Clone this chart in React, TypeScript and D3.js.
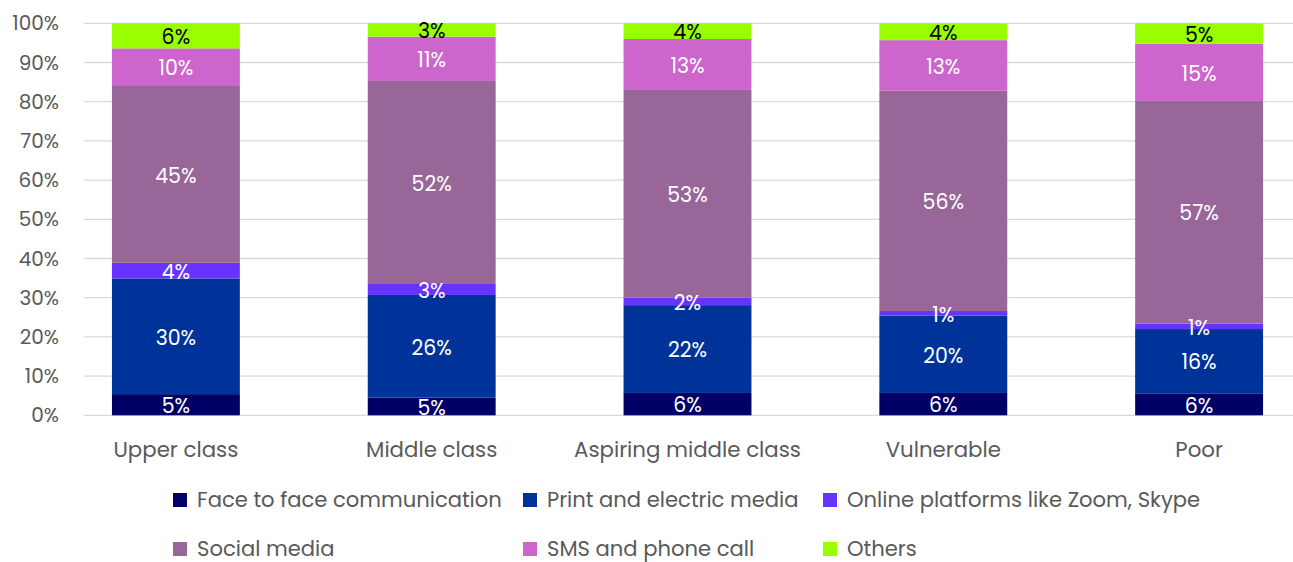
import React from "react";
import * as d3 from "d3";

const categories = ["Upper class", "Middle class", "Aspiring middle class", "Vulnerable", "Poor"];
const seriesNames = [
  "Face to face communication",
  "Print and electric media",
  "Online platforms like Zoom, Skype",
  "Social media",
  "SMS and phone call",
  "Others",
];
const faceToFace = [5.4, 4.5, 5.7, 5.7, 5.6];
const printMedia = [29.5, 26.2, 22.4, 19.7, 16.4];
const onlinePlatforms = [4.0, 2.8, 1.9, 1.2, 1.4];
const socialMedia = [45.1, 51.8, 53.0, 56.2, 56.8];
const smsPhone = [9.6, 11.3, 13.0, 12.9, 14.6];
const others = [6.4, 3.4, 4.0, 4.3, 5.2];
const yTicks = [0, 10, 20, 30, 40, 50, 60, 70, 80, 90, 100];
const colors = ["#000066", "#003399", "#6633ff", "#996699", "#cc66cc", "#99ff00"];
const labelColors = ["#fff", "#fff", "#fff", "#fff", "#fff", "#000"];

const FONT = "Poppins, Lato, 'Open Sans', sans-serif";

export default function App() {
  const W = 1293, H = 562;
  const seriesValues = [faceToFace, printMedia, onlinePlatforms, socialMedia, smsPhone, others];
  const rows = categories.map((c, i) => {
    const r: any = { cat: c };
    seriesNames.forEach((s, j) => (r[s] = seriesValues[j][i]));
    return r;
  });
  const stack = d3.stack<any>().keys(seriesNames)(rows);
  const x = d3.scaleBand().domain(categories).range([48, 1327]).paddingInner(0.5).paddingOuter(0.25);
  const y = d3.scaleLinear().domain([0, 100]).range([415.3, 23.3]);
  const gridX0 = 84, gridX1 = 1293;
  const legendCols = [173, 523, 823];
  const legendRows = [500, 549];

  return (
    <svg width={W} height={H} style={{ position: "absolute", left: 0, top: 0, background: "#fff" }} fontFamily={FONT}>
      {yTicks.map((t) => (
        <g key={t}>
          <line x1={gridX0} x2={gridX1} y1={y(t)} y2={y(t)} stroke="#d9d9d9" strokeWidth={1.3} />
          <text x={59} y={y(t)} dy="0.35em" textAnchor="end" fontSize={20} fill="#595959">
            {t}%
          </text>
        </g>
      ))}
      {stack.map((layer, j) => (
        <g key={layer.key}>
          {layer.map((d, i) => (
            <rect
              key={i}
              x={x(categories[i])}
              width={x.bandwidth()}
              y={y(d[1])}
              height={y(d[0]) - y(d[1])}
              fill={colors[j]}
            />
          ))}
        </g>
      ))}
      {stack.map((layer, j) => (
        <g key={"l" + layer.key}>
          {layer.map((d, i) => (
            <text
              key={i}
              x={(x(categories[i]) as number) + x.bandwidth() / 2}
              y={(y(d[0]) + y(d[1])) / 2}
              dy="0.4em"
              textAnchor="middle"
              fontSize={20.5}
              fill={labelColors[j]}
            >
              {Math.round(d[1] - d[0])}%
            </text>
          ))}
        </g>
      ))}
      {categories.map((c) => (
        <text
          key={c}
          x={(x(c) as number) + x.bandwidth() / 2}
          y={449}
          dy="0.36em"
          textAnchor="middle"
          fontSize={21.3}
          fill="#595959"
        >
          {c}
        </text>
      ))}
      {seriesNames.map((s, j) => {
        const lx = legendCols[j % 3];
        const ly = legendRows[Math.floor(j / 3)];
        return (
          <g key={s}>
            <rect x={lx} y={ly - 7} width={14} height={14} fill={colors[j]} />
            <text x={lx + 24} y={ly} dy="0.34em" fontSize={21.1} fill="#595959">
              {s}
            </text>
          </g>
        );
      })}
    </svg>
  );
}
